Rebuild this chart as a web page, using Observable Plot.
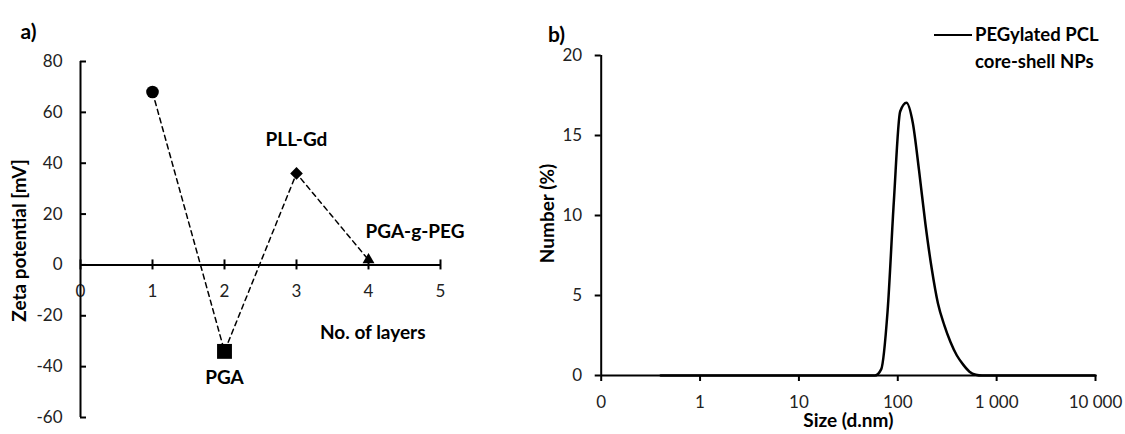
<!DOCTYPE html>
<html><head><meta charset="utf-8">
<script src="https://cdn.jsdelivr.net/npm/d3@7"></script>
<script src="https://cdn.jsdelivr.net/npm/@observablehq/plot@0.6"></script>
<style>
html,body{margin:0;padding:0;background:#fff;}
#wrap{position:relative;width:1125px;height:434px;font-family:Lato,sans-serif;overflow:hidden;}
#a{position:absolute;left:0;top:0;}
#b{position:absolute;left:520px;top:0;}
#legend{position:absolute;left:934px;top:21px;font-family:Lato,sans-serif;font-weight:bold;font-size:18.5px;line-height:26.7px;color:#000;}
#legend .sw{position:absolute;left:0;top:13px;width:38px;height:0;border-top:2.5px solid #000;}
#legend .tx{position:absolute;left:41px;top:0;white-space:nowrap;}
</style></head><body>
<div id="wrap"><div id="a"></div><div id="b"></div>
<div id="legend"><div class="sw"></div><div class="tx" id="legtext"></div></div></div>
<script>
// ---- Panel a: zeta potential vs number of layers ----
const layers = [1, 2, 3, 4];
const zeta = [68, -34, 36, 2];
const layerNames = ["", "PGA", "PLL-Gd", "PGA-g-PEG"];
const xTicksA = [0, 1, 2, 3, 4, 5];
const yTicksA = [-60, -40, -20, 0, 20, 40, 60, 80];
const xLabelA = "No. of layers";
const yLabelA = "Zeta potential [mV]";

// ---- Panel b: size distribution ----
const sizes = [0.4, 58.77, 68.06, 78.82, 91.28, 105.7, 122.4, 141.8, 164.2, 190.1, 220.2, 255.0, 295.3, 342.0, 396.1, 458.7, 531.2, 615.1, 712.4, 10000];
const numbers = [0, 0, 0.4, 4.0, 10.9, 16.5, 17.05, 15.8, 12.8, 9.5, 6.7, 4.5, 3.15, 2.08, 1.25, 0.68, 0.24, 0.05, 0, 0];
const xTicksB = [0.1, 1, 10, 100, 1000, 10000];
const xTickLabelsB = ["0", "1", "10", "100", "1 000", "10 000"];
const yTicksB = [0, 5, 10, 15, 20];
const xLabelB = "Size (d.nm)";
const yLabelB = "Number (%)";
const seriesLines = ["PEGylated PCL", "core-shell NPs"];

const tickColor = "#222";
const bold = {fontWeight: "bold", fontSize: 19, fill: "#000"};

const ptsA = layers.map((x, i) => ({x, y: zeta[i], name: layerNames[i], i}));

const chartA = Plot.plot({
  width: 520, height: 434,
  marginLeft: 80, marginRight: 80, marginTop: 61, marginBottom: 17,
  style: {fontFamily: "Lato, sans-serif", fontSize: "17px", color: tickColor, background: "transparent"},
  x: {domain: [0, 5], axis: null},
  y: {domain: [-60, 80]},
  marks: [
    Plot.axisY(yTicksA, {tickSize: 0, tickPadding: 18, tickFormat: d => String(d), fontSize: 17, label: null}),
    Plot.text(xTicksA, {x: d => d, y: 0, dy: 27, text: d => String(d), fontSize: 17, fill: tickColor}),
    Plot.ruleY(yTicksA, {y: d => d, x1: 0, x2: 0, insetRight: -6, stroke: "#000", strokeWidth: 2}),
    Plot.ruleX(xTicksA, {x: d => d, y1: 0, y2: 0, insetTop: -5, insetBottom: -5, stroke: "#000", strokeWidth: 2}),
    Plot.ruleY([0], {stroke: "#000", strokeWidth: 2}),
    Plot.ruleX([0], {stroke: "#000", strokeWidth: 2}),
    Plot.line(ptsA, {x: "x", y: "y", stroke: "#000", strokeWidth: 1.5, strokeDasharray: "5,4"}),
    Plot.dot(ptsA, {filter: d => d.i === 0, x: "x", y: "y", symbol: "circle", r: 6.3, fill: "#000", stroke: "none"}),
    Plot.dot(ptsA, {filter: d => d.i === 1, x: "x", y: "y", symbol: "square", r: 8.4, fill: "#000", stroke: "none"}),
    Plot.dot(ptsA, {filter: d => d.i === 2, x: "x", y: "y", symbol: "diamond2", r: 5.7, fill: "#000", stroke: "none"}),
    Plot.dot(ptsA, {filter: d => d.i === 3, x: "x", y: "y", symbol: "triangle2", r: 5.7, fill: "#000", stroke: "none"}),
    Plot.text(ptsA, {filter: d => d.i === 1, x: "x", y: "y", text: "name", dy: 27, ...bold}),
    Plot.text(ptsA, {filter: d => d.i === 2, x: "x", y: "y", text: "name", dy: -33, ...bold}),
    Plot.text(ptsA, {filter: d => d.i === 3, x: "x", y: "y", text: "name", dx: -3, dy: -28, textAnchor: "start", ...bold}),
    Plot.text([xLabelA], {frameAnchor: "right", dx: -15, dy: 93, textAnchor: "end", ...bold}),
    Plot.text([yLabelA], {frameAnchor: "left", dx: -61, dy: 1, rotate: -90, textAnchor: "middle", ...bold}),
    Plot.text(["a)"], {frameAnchor: "top-left", dx: -52, dy: -37, textAnchor: "middle", fontWeight: "bold", fontSize: 21, fill: "#000"})
  ]
});
document.getElementById("a").appendChild(chartA);

const distB = sizes.map((s, i) => ({s, n: numbers[i]}));

const chartB = Plot.plot({
  width: 605, height: 434,
  marginLeft: 80.7, marginRight: 30, marginTop: 55, marginBottom: 59,
  style: {fontFamily: "Lato, sans-serif", fontSize: "17px", color: tickColor, background: "transparent"},
  x: {type: "log", domain: [0.1, 10000]},
  y: {domain: [0, 20]},
  marks: [
    Plot.axisX(xTicksB, {tickSize: 6, tickPadding: 14.5, tickFormat: d => xTickLabelsB[xTicksB.indexOf(d)], fontSize: 17, label: null, stroke: "#000", strokeWidth: 2}),
    Plot.axisY(yTicksB, {tickSize: 6, tickPadding: 13, fontSize: 17, label: null, stroke: "#000", strokeWidth: 2}),
    Plot.line(distB, {x: "s", y: "n", curve: "monotone-x", stroke: "#000", strokeWidth: 2.5}),
    Plot.ruleY([0], {stroke: "#000", strokeWidth: 2}),
    Plot.ruleX([xTicksB[0]], {stroke: "#000", strokeWidth: 2}),
    Plot.text([xLabelB], {frameAnchor: "bottom", dy: 51, textAnchor: "middle", ...bold}),
    Plot.text([yLabelB], {frameAnchor: "left", dx: -53, dy: -2, rotate: -90, textAnchor: "middle", ...bold}),
    Plot.text(["b)"], {frameAnchor: "top-left", dx: -44.7, dy: -28, textAnchor: "middle", fontWeight: "bold", fontSize: 21, fill: "#000"})
  ]
});
document.getElementById("b").appendChild(chartB);

document.getElementById("legtext").innerHTML = seriesLines.map(s => `<div>${s}</div>`).join("");
</script>
</body></html>
